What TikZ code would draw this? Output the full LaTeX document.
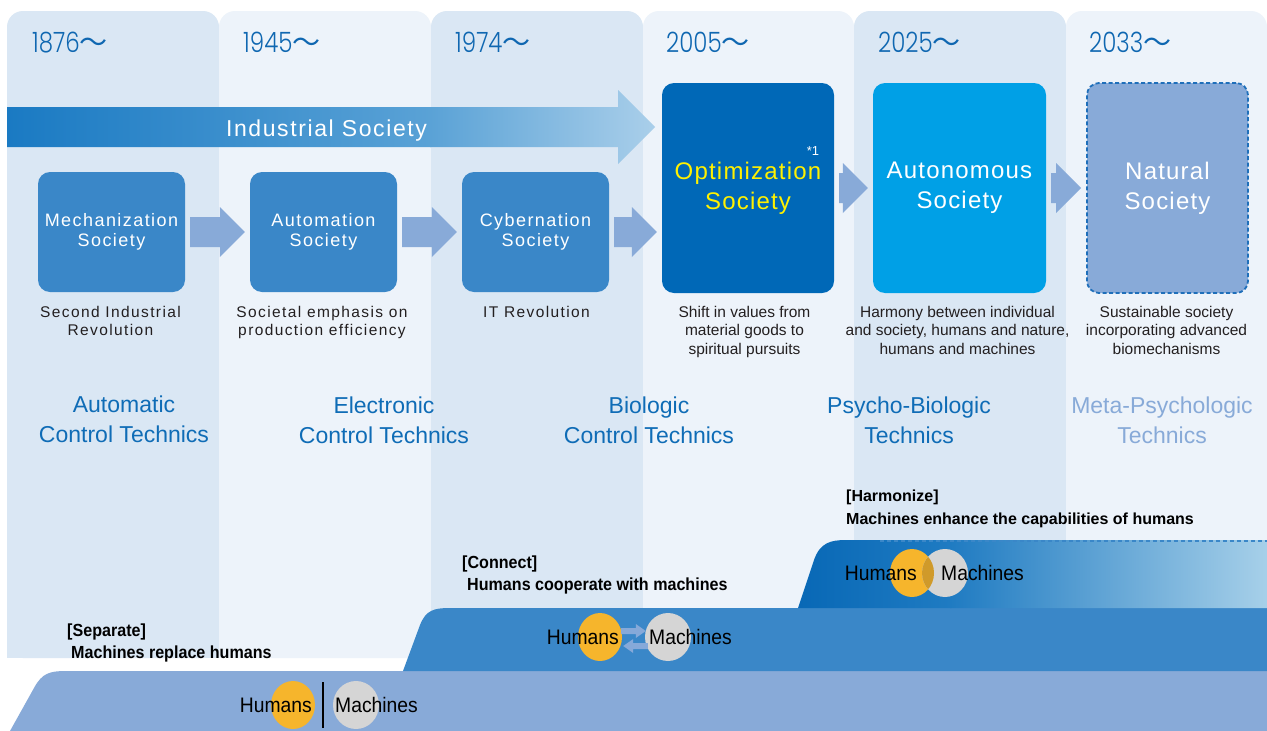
\documentclass[tikz,border=0pt]{standalone}
\usepackage{fontspec}
\setmainfont{Liberation Sans}
\newfontfamily\yearfont{Poppins Light}[FakeStretch=0.82]
\newfontfamily\cjkfont{Noto Sans CJK JP}
\newfontfamily\narrowfont{Liberation Sans}[FakeStretch=0.92]
\usetikzlibrary{calc,shapes.geometric}

\definecolor{colDark}{HTML}{DAE7F4}
\definecolor{colLight}{HTML}{EDF3FA}
\definecolor{boxBlue}{HTML}{3A87C8}
\definecolor{optBlue}{HTML}{0068B7}
\definecolor{autoBlue}{HTML}{00A0E6}
\definecolor{natBlue}{HTML}{88AAD8}
\definecolor{dashBlue}{HTML}{1F6FBA}
\definecolor{chevBlue}{HTML}{88AAD8}
\definecolor{techBlue}{HTML}{0F6CB6}
\definecolor{yearBlue}{HTML}{0F67B1}
\definecolor{textGray}{HTML}{231F20}
\definecolor{humOrange}{HTML}{F6B52C}
\definecolor{macGray}{HTML}{D5D5D5}
\definecolor{overlapOrange}{HTML}{D09A2A}
\definecolor{optYellow}{HTML}{FFF100}
\definecolor{indA}{HTML}{1A7AC3}
\definecolor{indB}{HTML}{5AA2D6}
\definecolor{indC}{HTML}{AACFEA}
\definecolor{stepA}{HTML}{0767B5}
\definecolor{stepB}{HTML}{1F7BC2}
\definecolor{stepC}{HTML}{A7D0E9}
\definecolor{swapBlue}{HTML}{86A9D9}

% period column with rounded top corners
\newcommand\periodcol[3]{%
  \fill[#3, rounded corners=16] (#1,11) rectangle (#2,658);
  \fill[#3] (#1,630) rectangle (#2,658);}

% chevron connector from the east side of one box to the west side of the next
\newcommand\chevarrow[2]{%
  \path let \p1=(#1.east), \p2=(#2.west) in
    [fill=chevBlue] (\x1+5pt,\y1+15pt) -- (\x2-30pt,\y1+15pt) -- (\x2-30pt,\y1+25pt)
    -- (\x2-5pt,\y1) -- (\x2-30pt,\y1-25pt) -- (\x2-30pt,\y1-15pt)
    -- (\x1+5pt,\y1-15pt) -- cycle;}

\begin{document}
\begin{tikzpicture}[x=1pt,y=-1pt,
  year/.style={anchor=base west, inner sep=0, text=yearBlue,
    font=\yearfont\fontsize{28}{30}\selectfont},
  box/.style={rounded corners=12, inner sep=0, align=center, text=white,
    minimum width=147, minimum height=120,
    font=\fontsize{18}{20}\selectfont\addfontfeature{LetterSpace=8}},
  bigbox/.style={rounded corners=12, inner sep=0, align=center, text=white,
    minimum width=172, minimum height=210,
    font=\fontsize{24}{30}\selectfont\addfontfeature{LetterSpace=5}},
  desc/.style={anchor=north, inner sep=0, align=center, text=textGray,
    font=\fontsize{15.5}{18.5}\selectfont},
  descwide/.style={desc, font=\fontsize{15.5}{18.5}\selectfont\addfontfeature{LetterSpace=9}},
  tech/.style={inner sep=0, align=center, text=techBlue,
    font=\fontsize{23}{30}\selectfont},
  mode/.style={anchor=base west, inner sep=0, text=black,
    font=\narrowfont\bfseries\fontsize{17.5}{20}\selectfont},
  who/.style={inner sep=0, text=black, font=\narrowfont\fontsize{21}{24}\selectfont},
  hum/.style={ellipse, fill=humOrange, minimum width=44, minimum height=48, inner sep=0},
  mac/.style={ellipse, fill=macGray, minimum width=46, minimum height=48, inner sep=0}
]
\useasboundingbox (0,0) rectangle (1267,731);
\fill[white] (0,0) rectangle (1267,731);

% period columns
\periodcol{7}{219}{colDark}
\periodcol{219}{431}{colLight}
\periodcol{431}{643}{colDark}
\periodcol{643}{854}{colLight}
\periodcol{854}{1066}{colDark}
\periodcol{1066}{1267}{colLight}

% years
\node[year] (y1) at (32,52) {1876{\cjkfont ～}};
\node[year] (y2) at (243,52) {1945{\cjkfont ～}};
\node[year] (y3) at (455,52) {1974{\cjkfont ～}};
\node[year] (y4) at (666,52) {2005{\cjkfont ～}};
\node[year] (y5) at (878,52) {2025{\cjkfont ～}};
\node[year] (y6) at (1089,52) {2033{\cjkfont ～}};

% bottom steps
\fill[natBlue] (10,731) -- (34,688) .. controls (42,673) and (50,671) .. (66,671)
  -- (1267,671) -- (1267,731) -- cycle;
\fill[boxBlue] (403,671) -- (420,625) .. controls (426,610) and (434,608) .. (450,608)
  -- (1267,608) -- (1267,671) -- cycle;
\begin{scope}
  \clip (798,608) -- (814,560) .. controls (820,543) and (830,540) .. (846,540)
    -- (1267,540) -- (1267,608) -- cycle;
  \shade[left color=stepA, right color=stepB] (790,535) rectangle (951,612);
  \shade[left color=stepB, right color=stepC] (950,535) rectangle (1268,612);
\end{scope}
\draw[color=boxBlue, dash pattern=on 4pt off 3pt, line width=1.6pt] (880,540.8) -- (1267,540.8);

% Industrial Society band
\begin{scope}
  \clip (7,107) -- (618,107) -- (618,90) -- (655,127) -- (618,164) -- (618,147) -- (7,147) -- cycle;
  \shade[left color=indA, right color=indB] (7,85) rectangle (431,170);
  \shade[left color=indB, right color=indC] (430,85) rectangle (656,170);
\end{scope}
\node[anchor=base, inner sep=0, text=white,
  font=\fontsize{23}{26}\selectfont\addfontfeature{LetterSpace=7}] (ind) at (326.5,136) {Industrial Society};

% society boxes
\node[box, fill=boxBlue] (mech) at (111.5,232) {Mechanization\\Society};
\node[box, fill=boxBlue] (autom) at (323.5,232) {Automation\\Society};
\node[box, fill=boxBlue] (cyber) at (535.5,232) {Cybernation\\Society};
\node[bigbox, fill=optBlue, text=optYellow] (opt) at (748,188) {Optimization\\Society};
\node[bigbox, fill=autoBlue, minimum width=173] (auton) at (959.5,188) {Autonomous\\Society};
\node[bigbox, fill=natBlue, draw=dashBlue, dash pattern=on 4pt off 2.5pt, line width=1.8pt,
  minimum width=161] (nat) at (1167.5,188) {Natural\\Society};
\node[inner sep=0, text=white, font=\fontsize{13}{14}\selectfont] (note) at (813,151) {*1};

% connectors between societies
\chevarrow{mech}{autom}
\chevarrow{autom}{cyber}
\chevarrow{cyber}{opt}
\chevarrow{opt}{auton}
\chevarrow{auton}{nat}

% descriptions
\node[descwide] (d1) at (110.5,306) {Second Industrial\\Revolution};
\node[descwide] (d2) at (322,306) {Societal emphasis on\\production efficiency};
\node[descwide] (d3) at (536.5,306) {IT Revolution};
\node[desc] (d4) at (744.5,306) {Shift in values from\\material goods to\\spiritual pursuits};
\node[desc] (d5) at (957.5,306) {Harmony between individual\\and society, humans and nature,\\humans and machines};
\node[desc] (d6) at (1166.5,306) {Sustainable society\\incorporating advanced\\biomechanisms};

% control technics
\node[tech] (t1) at (124,419) {Automatic\\Control Technics};
\node[tech] (t2) at (384,420) {Electronic\\Control Technics};
\node[tech] (t3) at (649,420) {Biologic\\Control Technics};
\node[tech] (t4) at (909,420) {Psycho-Biologic\\Technics};
\node[tech, text=natBlue] (t5) at (1162,420) {Meta-Psychologic\\Technics};

% relation labels
\node[mode] (sep) at (67,636) {[Separate]};
\node[mode] (sepd) at (71,658) {Machines replace humans};
\node[mode] (con) at (462,568) {[Connect]};
\node[mode] (cond) at (467,590) {Humans cooperate with machines};
\node[mode, font=\bfseries\fontsize{16}{18}\selectfont] (har) at (846,501) {[Harmonize]};
\node[mode, font=\bfseries\fontsize{16}{18}\selectfont] (hard) at (846,524) {Machines enhance the capabilities of humans};

% separate: humans | machines
\node[hum] (h1) at (293,705) {};
\node[mac] (m1) at (356,705) {};
\draw[line width=2.4pt] (323,682) -- (323,728);
\node[who, anchor=east] (h1t) at (312,705) {Humans};
\node[who, anchor=west] (m1t) at (335,705) {Machines};

% connect: humans <-> machines
\node[hum] (h2) at (600,637) {};
\node[mac] (m2) at (668,637) {};
\path let \p1=(h2.east), \p2=(m2.west) in
  [fill=swapBlue] (\x1-1pt,-628pt) -- (\x2-9pt,-628pt) -- (\x2-9pt,-624pt) -- (\x2+1pt,-631pt)
  -- (\x2-9pt,-638pt) -- (\x2-9pt,-634pt) -- (\x1-1pt,-634pt) -- cycle
  [fill=swapBlue] (\x2+3pt,-643pt) -- (\x1+11pt,-643pt) -- (\x1+11pt,-639pt) -- (\x1+1pt,-646pt)
  -- (\x1+11pt,-653pt) -- (\x1+11pt,-649pt) -- (\x2+3pt,-649pt) -- cycle;
\node[who, anchor=east] (h2t) at (619,637) {Humans};
\node[who, anchor=west] (m2t) at (649,637) {Machines};

% harmonize: overlapping humans and machines
\node[hum] (h3) at (912,573) {};
\node[mac] (m3) at (945,573) {};
\begin{scope}
  \clip (912,573) ellipse [x radius=22, y radius=24];
  \fill[overlapOrange] (945,573) ellipse [x radius=23, y radius=24];
\end{scope}
\node[who, anchor=east] (h3t) at (917,573) {Humans};
\node[who, anchor=west] (m3t) at (941,573) {Machines};
\end{tikzpicture}
\end{document}
